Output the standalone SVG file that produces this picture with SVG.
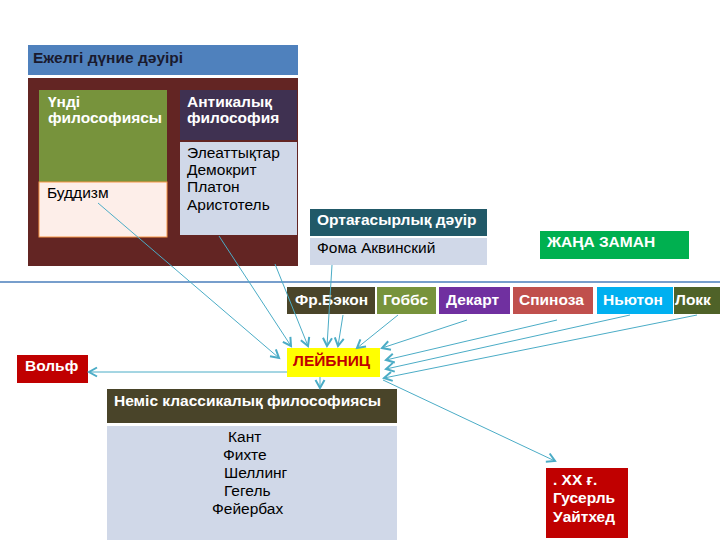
<svg xmlns="http://www.w3.org/2000/svg" width="720" height="540" viewBox="0 0 720 540">
<defs>
<style>
text{font-family:"Liberation Sans","Noto Sans",sans-serif;font-size:15.5px}
.w{fill:#fff;font-weight:bold}
.k{fill:#000}
.c{stroke:#4BACC6;stroke-width:1;fill:none;marker-end:url(#ah)}
</style>
<marker id="ah" markerUnits="userSpaceOnUse" markerWidth="12" markerHeight="12" refX="9" refY="5" orient="auto" viewBox="0 0 12 10">
<path d="M1,0.5 L9,5 L1,9.5" fill="none" stroke="#4BACC6" stroke-width="2"/>
</marker>
</defs>
<rect width="720" height="540" fill="#fff"/>
<line x1="0" y1="282" x2="720" y2="282" stroke="#4A7EBB" stroke-width="1.5"/>
<g id="ancient">
<rect x="28" y="45" width="270" height="30" fill="#4F81BD"/>
<text x="33" y="63" style="font-weight:bold;fill:#1A1A2E">Ежелгі дүние дәуірі</text>
<rect x="28" y="78" width="270" height="188" fill="#632523"/>
</g>
<g id="indian">
<rect x="39" y="90" width="128" height="92" fill="#77933C"/>
<text class="w" x="48" y="107">Үнді</text>
<text class="w" x="48" y="123">философиясы</text>
<rect x="39" y="182" width="128" height="55" fill="#FDEEE9" stroke="#F79646" stroke-width="1"/>
<text class="k" x="47" y="198">Буддизм</text>
</g>
<g id="antique">
<rect x="180" y="90" width="117" height="50" fill="#3F3151"/>
<text class="w" x="187" y="107">Антикалық</text>
<text class="w" x="187" y="123">философия</text>
<rect x="180" y="142" width="117" height="93" fill="#D0D8E8"/>
<text class="k" x="187" y="158">Элеаттықтар</text>
<text class="k" x="187" y="175">Демокрит</text>
<text class="k" x="187" y="192">Платон</text>
<text class="k" x="187" y="210">Аристотель</text>
</g>
<g id="medieval">
<rect x="310" y="209" width="177" height="27" fill="#215968"/>
<text class="w" x="317" y="225">Ортағасырлық дәуір</text>
<rect x="310" y="238" width="177" height="27" fill="#D0D8E8"/>
<text class="k" x="317" y="253">Фома Аквинский</text>
</g>
<g id="modern">
<rect x="540" y="231" width="149" height="28" fill="#00B050"/>
<text class="w" x="547" y="247">ЖАҢА ЗАМАН</text>
</g>
<g id="bacon"><rect x="287" y="287" width="88" height="27" fill="#4A452A"/><text class="w" x="295" y="305">Фр.Бэкон</text></g>
<g id="hobbes"><rect x="377" y="287" width="59" height="27" fill="#77933C"/><text class="w" x="383" y="305">Гоббс</text></g>
<g id="descartes"><rect x="439" y="287" width="71" height="27" fill="#7030A0"/><text class="w" x="446" y="305">Декарт</text></g>
<g id="spinoza"><rect x="513" y="287" width="80" height="27" fill="#C0504D"/><text class="w" x="519" y="305">Спиноза</text></g>
<g id="newton"><rect x="597" y="287" width="76" height="27" fill="#00B0F0"/><text class="w" x="603" y="305">Ньютон</text></g>
<g id="locke"><rect x="674" y="287" width="46" height="27" fill="#4F6228"/><text class="w" x="675" y="305">Локк</text></g>
<g id="leibniz"><rect x="287" y="348" width="93" height="29" fill="#FFFF00"/><text x="293" y="366" style="fill:#C00000;font-weight:bold">ЛЕЙБНИЦ</text></g>
<g id="wolff"><rect x="17" y="355" width="71" height="28" fill="#C00000"/><text class="w" x="25" y="371">Вольф</text></g>
<g id="german">
<rect x="107" y="389" width="290" height="34" fill="#494429"/>
<text class="w" x="114" y="406">Неміс классикалық философиясы</text>
<rect x="107" y="426" width="290" height="114" fill="#D0D8E8"/>
<text class="k" x="228" y="442">Кант</text>
<text class="k" x="223" y="460">Фихте</text>
<text class="k" x="224" y="478">Шеллинг</text>
<text class="k" x="224" y="496">Гегель</text>
<text class="k" x="212" y="514">Фейербах</text>
</g>
<g id="xx">
<rect x="546" y="468" width="82" height="70" fill="#C00000"/>
<text class="w" x="553" y="485">. XX ғ.</text>
<text class="w" x="553" y="503">Гусерль</text>
<text class="w" x="553" y="522">Уайтхед</text>
</g>
<g id="connectors">
<line class="c" x1="98" y1="203" x2="279" y2="358"/>
<line class="c" x1="219" y1="236" x2="291" y2="346"/>
<line class="c" x1="275" y1="264" x2="308" y2="346"/>
<line class="c" x1="332" y1="265" x2="327" y2="346"/>
<line class="c" x1="343" y1="315" x2="338" y2="346"/>
<line class="c" x1="398" y1="315" x2="357" y2="348"/>
<line class="c" x1="467" y1="320" x2="382" y2="348"/>
<line class="c" x1="557" y1="320" x2="386" y2="360"/>
<line class="c" x1="630" y1="315" x2="386" y2="369"/>
<line class="c" x1="697" y1="315" x2="384" y2="378"/>
<line class="c" x1="287" y1="372" x2="89" y2="372"/>
<line class="c" x1="320" y1="377" x2="320" y2="388"/>
<line class="c" x1="383" y1="380" x2="555" y2="461"/>
</g>
</svg>
